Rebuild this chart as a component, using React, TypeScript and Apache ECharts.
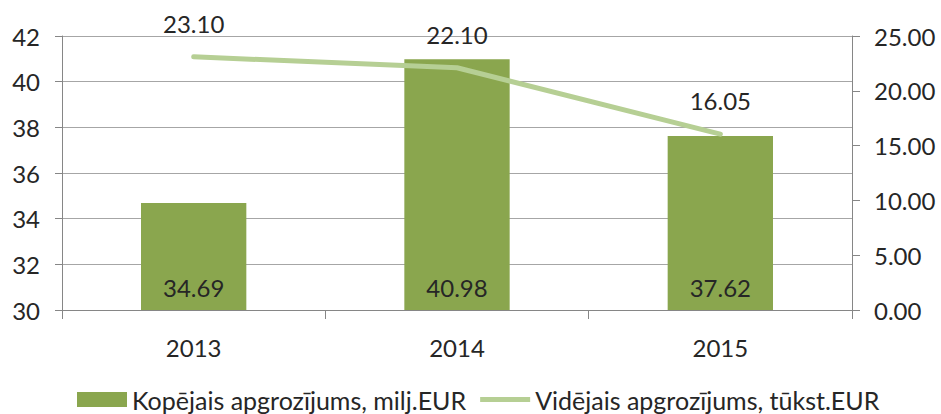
import React, { useEffect, useRef } from "react";
import * as echarts from "echarts";

const categories = ["2013", "2014", "2015"];
const totalTurnover = [34.69, 40.98, 37.62];
const avgTurnover = [23.1, 22.1, 16.05];
const seriesNames = ["Kopējais apgrozījums, milj.EUR", "Vidējais apgrozījums, tūkst.EUR"];

const FONT = "Lato, 'Noto Sans', sans-serif";
const TXT = "#262626";
const BAR = "#8aa64e";
const LINE = "#b6cf94";

export default function App() {
  const ref = useRef<HTMLDivElement>(null);
  useEffect(() => {
    document.body.style.margin = "0";
    const chart = echarts.init(ref.current!, null, { renderer: "svg" });
    chart.setOption({
      animation: false,
      textStyle: { fontFamily: FONT },
      grid: { left: 62, right: 89, top: 36, bottom: 104 },
      legend: {
        bottom: -3,
        left: 72,
        itemWidth: 50,
        itemHeight: 15,
        itemGap: 14,
        textStyle: { fontFamily: FONT, fontSize: 25, color: TXT },
        data: [
          { name: seriesNames[0], icon: "rect" },
          { name: seriesNames[1], icon: "path://M0,0 H50 V5 H0 Z" },
        ],
      },
      xAxis: {
        type: "category",
        data: categories,
        axisLine: { lineStyle: { color: "#868686", width: 1 } },
        axisTick: { show: true, length: 9, lineStyle: { color: "#868686" } },
        axisLabel: { color: TXT, fontSize: 24, fontFamily: FONT, margin: 25 },
      },
      yAxis: [
        {
          type: "value",
          min: 30,
          max: 42,
          interval: 2,
          axisLine: { show: true, lineStyle: { color: "#868686" } },
          axisTick: { show: true, length: 7, lineStyle: { color: "#868686" } },
          axisLabel: { color: TXT, fontSize: 24, fontFamily: FONT, margin: 22 },
          splitLine: { lineStyle: { color: "#a6a6a6", width: 1 } },
        },
        {
          type: "value",
          min: 0,
          max: 25,
          interval: 5,
          position: "right",
          axisLine: { show: true, lineStyle: { color: "#868686" } },
          axisTick: { show: true, length: 8, lineStyle: { color: "#868686" } },
          axisLabel: {
            color: TXT,
            fontSize: 24,
            fontFamily: FONT,
            margin: 22,
            formatter: (v: number) => v.toFixed(2),
          },
          splitLine: { show: false },
        },
      ],
      series: [
        {
          name: seriesNames[0],
          type: "bar",
          data: totalTurnover,
          barWidth: "40%",
          itemStyle: { color: BAR },
          label: {
            show: true,
            position: "insideBottom",
            distance: 11,
            color: TXT,
            fontSize: 24,
            fontFamily: FONT,
            formatter: (p: any) => p.value.toFixed(2),
          },
        },
        {
          name: seriesNames[1],
          type: "line",
          yAxisIndex: 1,
          data: avgTurnover,
          symbol: "circle",
          symbolSize: 1,
          itemStyle: { color: LINE },
          lineStyle: { color: LINE, width: 5, cap: "round" },
          label: {
            show: true,
            position: "top",
            distance: 21,
            color: TXT,
            fontSize: 24,
            fontFamily: FONT,
            formatter: (p: any) => p.value.toFixed(2),
          },
        },
      ],
    });
    return () => chart.dispose();
  }, []);
  return <div ref={ref} style={{ width: 941, height: 414 }} />;
}
